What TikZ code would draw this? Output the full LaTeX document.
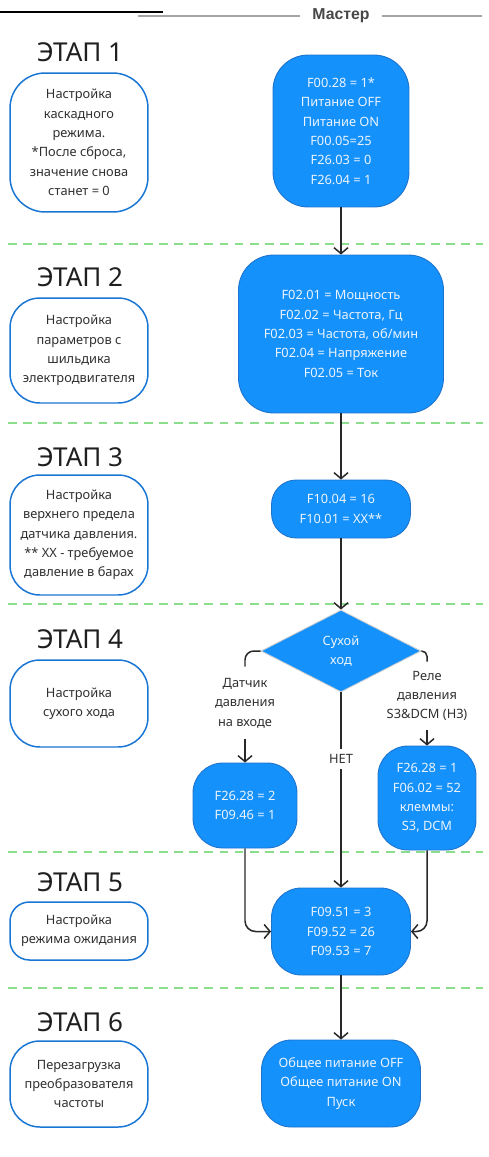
\documentclass[tikz,border=0pt]{standalone}
\usepackage{fontspec}
\setmainfont{Noto Sans}
\newfontfamily\headfont{Liberation Sans}
\usetikzlibrary{arrows.meta,shapes.geometric}
\definecolor{fillc}{RGB}{20,145,250}
\definecolor{rimc}{RGB}{30,115,205}
\definecolor{edgec}{RGB}{25,118,212}
\definecolor{sepc}{RGB}{140,222,140}
\definecolor{textc}{RGB}{48,48,48}
\definecolor{linec}{RGB}{40,40,40}
\definecolor{grayt}{RGB}{165,165,165}
\definecolor{whitet}{RGB}{236,244,255}

\tikzset{
  stage/.style={draw=edgec,line width=0.85pt,fill=white,text=textc,align=center,
    inner sep=0pt,minimum width=2.76cm,rounded corners=17pt},
  param/.style={draw=rimc,line width=0.5pt,fill=fillc,text=whitet,align=center,
    inner sep=0pt,rounded corners=17pt},
  lbl/.style={text=textc,align=center,inner sep=0pt},
  conn/.style={draw=linec,line width=0.85pt,-{Straight Barb[length=3.4pt,width=8pt]}},
  wire/.style={draw=linec,line width=0.85pt},
  sep/.style={draw=sepc,line width=0.75pt,dash pattern=on 5pt off 3.6pt},
  title/.style={font=\fontsize{14.8}{17}\selectfont,text=black!88,inner sep=0pt}
}

\begin{document}
\begin{tikzpicture}[x=0.02cm,y=-0.02cm,font=\fontsize{7.3}{11}\selectfont]
\useasboundingbox (0,0) rectangle (489,1157);

%================= header =================
\draw[black,line width=1.2pt] (0,12) -- (163,12);
\node[font=\headfont\fontsize{9}{10}\selectfont\bfseries,text=black!72,inner xsep=7pt] (master) at (341,16) {Мастер};
\draw[grayt,line width=0.6pt] (138,16) -- (master.west);
\draw[grayt,line width=0.6pt] (master.east) -- (482,16);

% separators between stages
\foreach \y in {244,423,604,852,988}{
  \draw[sep] (8,\y) -- (483,\y);}

% stage titles
\foreach \y/\n in {52/1,277/2,457/3,639/4,882/5,1022/6}{
  \node[title] (t\n) at (80,\y) {ЭТАП \n};}

%================= left column: what each stage does =================
\node[stage,minimum height=2.78cm,rounded corners=20pt] (s1) at (79,142.5)
  {Настройка\\каскадного\\режима.\\{*}После сброса,\\значение снова\\станет = 0};
\node[stage,minimum height=2.1cm] (s2) at (79,350.5)
  {Настройка\\параметров с\\шильдика\\электродвигателя};
\node[stage,minimum height=2.4cm] (s3) at (79,535)
  {Настройка\\верхнего предела\\датчика давления.\\{**} XX - требуемое\\давление в барах};
\node[stage,minimum height=1.74cm] (s4) at (79,703.5) {Настройка\\сухого хода};
\node[stage,minimum height=1.16cm,rounded corners=11pt] (s5) at (79,931)
  {Настройка\\режима ожидания};
\node[stage,minimum height=1.72cm] (s6) at (79,1084)
  {Перезагрузка\\преобразователя\\частоты};

%================= right column: parameters =================
\node[param,minimum width=2.72cm,minimum height=3.04cm,rounded corners=20pt] (p1) at (341,131)
  {F00.28 = 1*\\Питание OFF\\Питание ON\\F00.05=25\\F26.03 = 0\\F26.04 = 1};
\node[param,minimum width=4.1cm,minimum height=3.16cm,rounded corners=20pt] (p2) at (341,334)
  {F02.01 = Мощность\\F02.02 = Частота, Гц\\F02.03 = Частота, об/мин\\F02.04 = Напряжение\\F02.05 = Ток};
\node[param,minimum width=2.78cm,minimum height=1.16cm,rounded corners=14pt] (p3) at (341,509)
  {F10.04 = 16\\F10.01 = XX**};

% --- dry run: three ways
\node[diamond,fill=fillc,draw=black!18,line width=0.5pt,text=whitet,align=center,inner sep=0pt,
  minimum width=3.2cm,minimum height=1.64cm] (dry) at (341,651) {Сухой\\ход};
\node[lbl,minimum height=1.44cm] (sens) at (245,703) {Датчик\\давления\\на входе};
\node[lbl,minimum height=1.36cm] (relay) at (427,696) {Реле\\давления\\S3\&DCM (НЗ)};
\node[lbl,minimum height=0.4cm] (no) at (341,759) {НЕТ};
\node[param,minimum width=2.08cm,minimum height=1.7cm] (p4a) at (245,805.5)
  {F26.28 = 2\\F09.46 = 1};
\node[param,minimum width=1.96cm,minimum height=2.08cm] (p4b) at (427,798)
  {F26.28 = 1\\F06.02 = 52\\клеммы:\\S3, DCM};

\node[param,minimum width=2.78cm,minimum height=1.74cm] (p5) at (341,931.5)
  {F09.51 = 3\\F09.52 = 26\\F09.53 = 7};
\node[param,minimum width=3.18cm,minimum height=1.74cm] (p6) at (341,1083.5)
  {Общее питание OFF\\Общее питание ON\\Пуск};

%================= connectors =================
\draw[conn] (p1) -- (p2);
\draw[conn] (p2) -- (p3);
\draw[conn] (p3) -- (dry);
\draw[wire,rounded corners=5pt] (dry.west) -| (sens.north);
\draw[conn] (sens.south) -- (p4a.north);
\draw[wire,rounded corners=3pt] (dry.east) -| (relay.north);
\draw[conn] (relay.south) -- (p4b.north);
\draw[wire] (dry.south) -- (no.north);
\draw[conn] (no.south) -- (p5.north);
\draw[conn,rounded corners=6pt] (p4a.south) |- (p5.west);
\draw[conn,rounded corners=6pt] (p4b.south) |- (p5.east);
\draw[conn] (p5) -- (p6);
\end{tikzpicture}
\end{document}
